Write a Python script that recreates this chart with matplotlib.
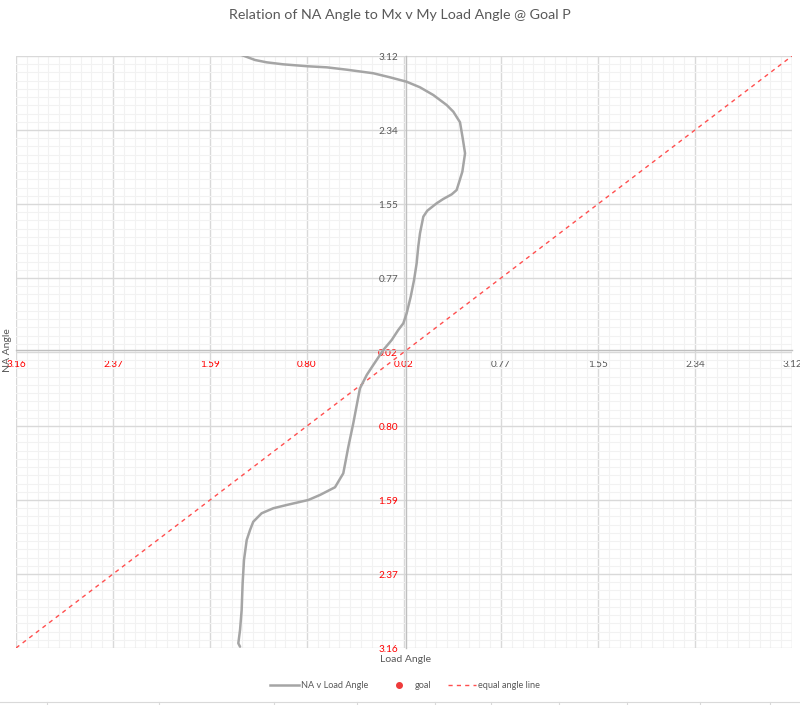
import numpy as np
import matplotlib
matplotlib.use("Agg")
import matplotlib.pyplot as plt
from matplotlib.ticker import FixedLocator, FuncFormatter
from matplotlib.lines import Line2D

# ---- data ----
load_angle = [-1.346, -1.225, -1.130, -0.998, -0.796, -0.644, -0.482, -0.267, -0.132, 0.003,
              0.111, 0.219, 0.327, 0.381, 0.435, 0.457, 0.476, 0.454, 0.429, 0.408,
              0.368, 0.300, 0.246, 0.170, 0.138, 0.111, 0.097, 0.084, 0.063, 0.036,
              0.003, -0.024, -0.065, -0.118, -0.186, -0.267, -0.320, -0.375, -0.388, -0.429,
              -0.469, -0.510, -0.577, -0.699, -0.793, -0.968, -1.077, -1.171, -1.239, -1.265,
              -1.292, -1.314, -1.325, -1.333, -1.346, -1.360, -1.346]
na_angle = [3.140, 3.081, 3.056, 3.035, 3.014, 3.003, 2.978, 2.940, 2.897, 2.850,
            2.791, 2.709, 2.603, 2.532, 2.420, 2.250, 2.090, 1.895, 1.789, 1.701,
            1.655, 1.606, 1.560, 1.481, 1.418, 1.241, 1.099, 0.923, 0.746, 0.569,
            0.392, 0.286, 0.215, 0.109, 0.003, -0.156, -0.262, -0.404, -0.493, -0.775,
            -1.024, -1.306, -1.454, -1.536, -1.589, -1.642, -1.677, -1.730, -1.820, -1.908,
            -2.014, -2.226, -2.473, -2.757, -2.969, -3.110, -3.146]
goal_x = []
goal_y = []
equal_x = [-3.16, 3.1232]
equal_y = [-3.16, 3.1232]

axis_min = -3.16
axis_max = 3.1232
major_step = np.pi / 4
minor_step = np.pi / 36

title = "Relation of NA Angle to Mx v My Load Angle @ Goal P"
xlabel = "Load Angle"
ylabel = "NA Angle"
series_names = ["NA v Load Angle", "goal", "equal angle line"]

FONT = ["Lato", "DejaVu Sans"]
plt.rcParams['font.family'] = FONT
TXT = "#595959"
RED = "#ff0000"

fig = plt.figure(figsize=(8.0, 7.05), dpi=100)
ax = fig.add_axes([16/800, 1-648/705, 776/800, 592/705])
ax.set_xlim(axis_min, axis_max)
ax.set_ylim(axis_min, axis_max)

majors = [axis_min + i*major_step for i in range(9)]
minors = [axis_min + i*minor_step for i in range(73)]
for a in (ax.xaxis, ax.yaxis):
    a.set_major_locator(FixedLocator(majors))
    a.set_minor_locator(FixedLocator(minors))
ax.grid(which='minor', color='#f2f2f2', lw=0.8, zorder=0)
ax.grid(which='major', color='#d9d9d9', lw=1.0, zorder=0)
ax.set_axisbelow(True)

for s in ['top', 'right']:
    ax.spines[s].set_visible(False)
ax.spines['left'].set_position(('data', 0))
ax.spines['bottom'].set_position(('data', 0))
ax.spines['left'].set_color('#bfbfbf')
ax.spines['bottom'].set_color('#bfbfbf')
ax.spines['left'].set_linewidth(1.0)
ax.spines['bottom'].set_linewidth(1.0)

fmt = FuncFormatter(lambda v, p: f"{abs(v):.2f}")
ax.xaxis.set_major_formatter(fmt)
ax.yaxis.set_major_formatter(fmt)
ax.tick_params(which='both', length=0, labelsize=7.2, labelcolor=TXT)
ax.tick_params(axis='x', pad=7)
ax.tick_params(axis='y', pad=6)
for t, v in zip(ax.get_xticklabels(), majors):
    t.set_color(RED if v < 0 else TXT)
for t, v in zip(ax.get_yticklabels(), majors):
    t.set_color(RED if v < 0 else TXT)

ax.plot(load_angle, na_angle, color='#a5a5a5', lw=1.8, zorder=3, solid_capstyle='round')
ax.plot(goal_x, goal_y, 'o', color='#ee3b3b', ms=4, zorder=4)
ax.plot(equal_x, equal_y, color='#ff4f4f', lw=1.0, ls=(0, (3, 3)), zorder=2)

fig.text(0.5, 1-15/705, title, ha='center', va='center', fontsize=10.3, color=TXT)
fig.text(406/800, 1-660/705, xlabel, ha='center', va='center', fontsize=7.5, color=TXT)
fig.text(8/800, 1-350/705, ylabel, ha='center', va='center', fontsize=7.5, color=TXT, rotation=90)

handles = [Line2D([], [], color='#a5a5a5', lw=1.8),
           Line2D([], [], marker='o', ls='none', color='#ee3b3b', ms=4),
           Line2D([], [], color='#ff4f4f', lw=1.0, ls=(0, (3, 3)))]
fig.legend(handles, series_names, loc='center', bbox_to_anchor=(405/800, 1-686/705), ncol=3,
           frameon=False, fontsize=6.6, labelcolor=TXT, handlelength=3.1, columnspacing=1.8,
           handletextpad=0.2)

# worksheet cell lines below chart
fig.add_artist(Line2D([0, 1], [1-702/705]*2, transform=fig.transFigure, color='#d9d9d9', lw=0.8))
for xp in [47, 159, 274, 357, 435, 491, 559, 627, 700, 770]:
    fig.add_artist(Line2D([xp/800]*2, [0, 1-702/705], transform=fig.transFigure, color='#d9d9d9', lw=0.8))

fig.savefig("out.png", dpi=100)
